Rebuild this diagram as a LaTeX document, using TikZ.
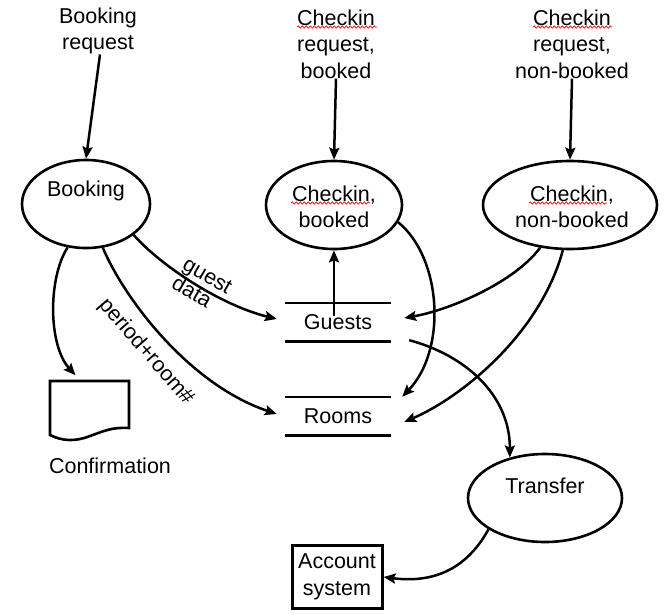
\documentclass[tikz,border=0pt]{standalone}
\usepackage{fontspec}
\setmainfont{Liberation Sans}
\usetikzlibrary{shapes.geometric,arrows.meta,calc,decorations.pathmorphing}
\begin{document}
\begin{tikzpicture}[x=1pt,y=-1pt,
  every node/.style={font=\fontsize{21.5}{26.5}\selectfont, inner sep=0pt},
  proc/.style={draw, ellipse, line width=2.6pt},
  store/.style={minimum width=106pt, minimum height=38pt},
  flow/.style={line width=2.5pt, -{Stealth[length=12pt,width=10pt,inset=2pt]}},
  txt/.style={align=center},
  spell/.style={red, line width=0.7pt, decorate, decoration={snake,amplitude=1.2pt,segment length=4pt}}]
\useasboundingbox (0,0) rectangle (669,615);

% sources
\node[txt] (breq) at (98,31) {Booking\\request};
\node[txt] (cbreq) at (336,44) {Checkin\\request,\\booked};
\node[txt] (cnreq) at (572,44) {Checkin\\request,\\non-booked};

% processes
\node[proc, minimum width=128pt, minimum height=88pt] (booking) at (86,204) {};
\node (bookingl) at (86,191) {Booking};
\node[proc, minimum width=136pt, minimum height=88pt] (cb) at (334,205) {};
\node[txt] (cbl) at (334,207) {Checkin,\\booked};
\node[proc, minimum width=174pt, minimum height=88pt] (cn) at (570,205) {};
\node[txt] (cnl) at (572,207) {Checkin,\\non-booked};
\node[proc, minimum width=154pt, minimum height=88pt] (transfer) at (545,498) {};
\node (transferl) at (545,486) {Transfer};

% stores
\node[store] (guests) at (338,322) {Guests};
\draw[line width=2.6pt] (guests.north west) -- (guests.north east) (guests.south west) -- (guests.south east);
\node[store] (rooms) at (338,416) {Rooms};
\draw[line width=2.6pt] (rooms.north west) -- (rooms.north east) (rooms.south west) -- (rooms.south east);

% account system
\node[draw, line width=3pt, txt, minimum width=90pt, minimum height=63pt] (acct) at (337,577) {Account\\system};

% confirmation document
\node[minimum width=79pt, minimum height=55pt] (conf) at (89.5,408) {};
\draw[line width=2.6pt] (50,381) -- (129,381) -- (129,428)
  .. controls (112,427) and (104,431) .. (90,436)
  .. controls (75,442) and (62,441) .. (50,435) -- cycle;
\node (confl) at (110,466) {Confirmation};

% spell-check underlines
\draw[spell] (297,27) -- (377,27);
\draw[spell] (533,27) -- (612,27);
\draw[spell] (291,203) -- (370,203);
\draw[spell] (529,203) -- (607,203);

% flows
\draw[flow] ($(breq.south)+(2,0)$) -- (booking.north);
\draw[flow] (cbreq.south) -- (cb.north);
\draw[flow] (cnreq.south) -- (cn.north);

\draw[flow] (booking.-33) .. controls (160,265) and (220,305) .. ($(guests.west)+(-8,-3)$);
\node[rotate=-30, align=left, font=\fontsize{21.5}{22}\selectfont] (gdata) at (202,285) {guest\\data};
\draw[flow] (booking.-69) .. controls (125,300) and (190,385) .. ($(rooms.west)+(-8,-2)$);
\node[rotate=-49] (prl) at (146,352) {period+room\#};
\draw[flow] (booking.-113) .. controls (48,278) and (48,345) .. ($(conf.north)+(-14,-5)$);

\draw[flow] ($(guests.center)+(-4,-6)$) -- (cb.south);
\draw[flow] (cb.-15) .. controls (442,258) and (447,350) .. ($(rooms.north east)+(11,0)$);
\draw[flow] (cn.-125) .. controls (515,282) and (450,310) .. ($(guests.east)+(13,-4)$);
\draw[flow] (cn.-99) .. controls (540,335) and (460,398) .. ($(rooms.east)+(13,6)$);
\draw[flow] ($(guests.south east)+(18,-1)$) .. controls (465,355) and (510,395) .. (transfer.131);
\draw[flow] (transfer.-151) .. controls (465,572) and (430,583) .. (acct.east);
\end{tikzpicture}
\end{document}
